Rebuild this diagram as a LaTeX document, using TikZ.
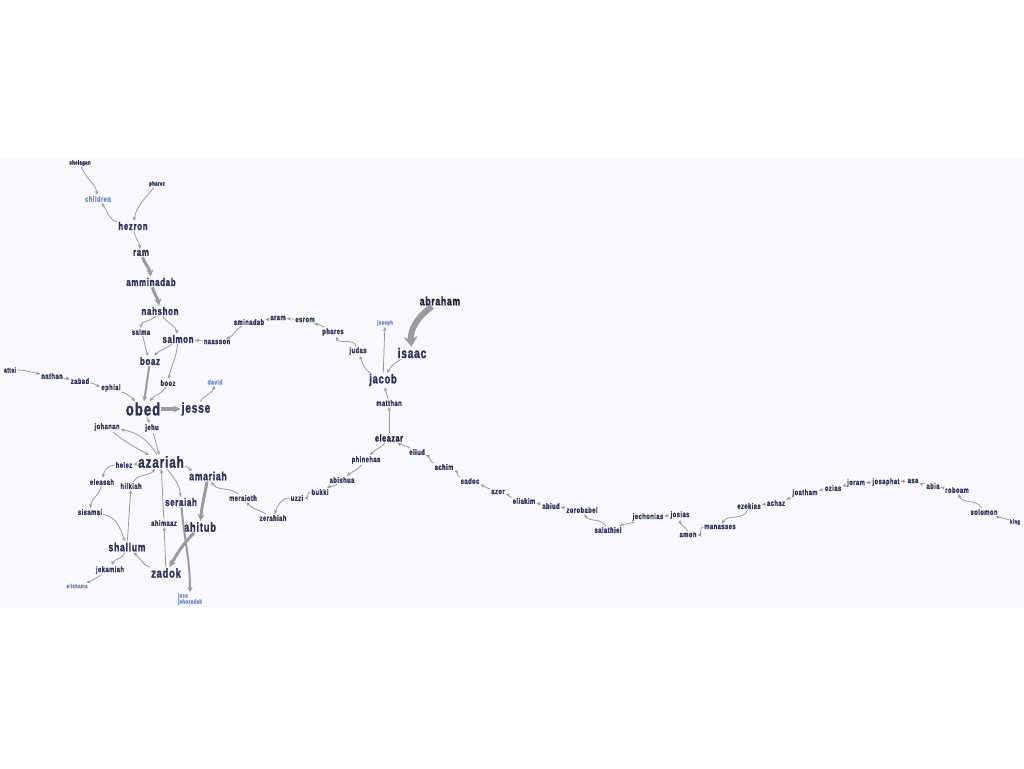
\documentclass[tikz,border=0pt]{standalone}
\usepackage{fontspec}
\usetikzlibrary{arrows.meta}
\newfontfamily\nmfont[FakeStretch=0.72,LetterSpace=6,BoldFeatures={FakeBold=1.5}]{Liberation Sans}
\definecolor{namecol}{HTML}{2C3158}
\definecolor{darkcol}{HTML}{1C1C38}
\definecolor{lblue}{HTML}{6B8ED3}
\definecolor{edgegray}{HTML}{9A9AA2}
\definecolor{bgcol}{HTML}{F9F8FC}
\newcommand{\fs}[1]{\nmfont\bfseries\fontsize{#1}{#1}\selectfont}
\tikzset{
  nm/.style={font=\fs{8}, text=namecol, inner sep=1pt},
  tny/.style={nm, font=\fs{6}},
  med/.style={nm, font=\fs{11}},
  big/.style={nm, font=\fs{14}},
  blu/.style={text=lblue},
  ln/.style={draw=edgegray, line width=0.8pt, -{Stealth[length=4pt,width=3.5pt]}},
  mid/.style={ln, line width=2pt, -{Stealth[length=5pt,width=5pt]}},
  thk/.style={ln, line width=3pt, -{Stealth[length=7pt,width=7pt]}},
  fat/.style={ln, line width=6pt, -{Stealth[length=10pt,width=14pt]}},
}
\begin{document}
\begin{tikzpicture}[x=1pt, y=-1pt]
\useasboundingbox (0,0) rectangle (1024,768);
\fill[bgcol] (0,158) rectangle (1024,607);

% ruth line
\node[tny] (shelagan) at (80,163) {shelagan};
\node[tny] (pharez) at (157,184) {pharez};
\node[nm,blu] (children) at (98,199) {children};
\node[med] (hezron) at (133,226) {hezron};
\node[med] (ram) at (141,253) {ram};
\node[med] (amminadab) at (151,282) {amminadab};
\node[med] (nahshon) at (160,311) {nahshon};
\node[nm] (salma) at (141,332) {salma};
\node[med] (salmon) at (178,339) {salmon};
\node[med] (boaz) at (150,361) {boaz};
\node[nm] (booz) at (168,383) {booz};
\node[nm, font=\fs{18}] (obed) at (143,409) {obed};
\node[big] (jesse) at (196,409) {jesse};
\node[tny,blu, font=\fs{7}] (david) at (215,382) {david};

% matthew line
\node[nm] (naasson) at (217,342) {naasson};
\node[nm] (aminadab) at (249,322) {aminadab};
\node[nm] (aram) at (278,318) {aram};
\node[nm] (esrom) at (305,320) {esrom};
\node[nm] (phares) at (333,332) {phares};
\node[nm] (judas) at (358,351) {judas};
\node[tny,blu] (joseph) at (385,323) {joseph};
\node[nm, font=\fs{12}, text=darkcol] (abraham) at (440,301) {abraham};
\node[big] (isaac) at (412,353) {isaac};
\node[nm, font=\fs{13}] (jacob) at (383,380) {jacob};
\node[nm] (matthan) at (389,403) {matthan};
\node[nm, font=\fs{10}, text=darkcol] (eleazar) at (389,438) {eleazar};
\node[nm] (eliud) at (417,452) {eliud};
\node[nm] (achim) at (444,467) {achim};
\node[nm] (sadoc) at (470,481) {sadoc};
\node[nm] (azor) at (498,492) {azor};
\node[nm] (eliakim) at (524,501) {eliakim};
\node[nm] (abiud) at (551,506) {abiud};
\node[nm] (zorobabel) at (582,510) {zorobabel};
\node[nm] (salathiel) at (608,530) {salathiel};
\node[nm] (jechonias) at (648,517) {jechonias};
\node[nm] (josias) at (680,515) {josias};
\node[nm] (amon) at (688,535) {amon};
\node[nm] (manasses) at (720,527) {manasses};
\node[nm] (ezekias) at (749,506) {ezekias};
\node[nm] (achaz) at (776,503) {achaz};
\node[nm] (joatham) at (805,493) {joatham};
\node[nm] (ozias) at (833,488) {ozias};
\node[nm] (joram) at (856,483) {joram};
\node[nm] (josaphat) at (886,482) {josaphat};
\node[nm] (asa) at (913,481) {asa};
\node[nm] (abia) at (933,486) {abia};
\node[nm] (roboam) at (957,490) {roboam};
\node[nm] (solomon) at (984,512) {solomon};
\node[tny] (king) at (1015,522) {king};

% chronicles, priests
\node[nm] (phinehas) at (366,460) {phinehas};
\node[nm] (abishua) at (342,480) {abishua};
\node[nm] (bukki) at (320,492) {bukki};
\node[nm] (uzzi) at (297,498) {uzzi};
\node[nm] (zerahiah) at (273,518) {zerahiah};
\node[nm] (meraioth) at (243,498) {meraioth};
\node[nm, font=\fs{12}] (amariah) at (208,476) {amariah};
\node[nm, font=\fs{13}] (ahitub) at (200,527) {ahitub};
\node[nm, font=\fs{13}] (zadok) at (166,573) {zadok};
\node[nm] (ahimaaz) at (164,523) {ahimaaz};
\node[nm, font=\fs{16}] (azariah) at (161,462) {azariah};
\node[med] (seraiah) at (181,502) {seraiah};
\node[tny,blu, align=left] (jozo) at (190,599) {jozo\\jehozadak};
\node[nm] (johanan) at (107,427) {johanan};
\node[nm] (jehu) at (152,428) {jehu};
\node[nm] (hilkiah) at (131,486) {hilkiah};
\node[nm] (helez) at (124,465) {helez};
\node[nm] (eleasah) at (102,482) {eleasah};
\node[nm] (sisamai) at (90,512) {sisamai};
\node[nm, font=\fs{12}] (shallum) at (127,547) {shallum};
\node[nm] (jekamiah) at (110,570) {jekamiah};
\node[tny,blu] (elishama) at (77,586) {elishama};
\node[tny, font=\fs{7}] (attai) at (10,370) {attai};
\node[nm] (nathan) at (52,376) {nathan};
\node[nm] (zabad) at (80,381) {zabad};
\node[nm] (ephlal) at (111,388) {ephlal};

% edges, top
\draw[ln] (shelagan) to[out=-70,in=100] (children);
\draw[ln] (hezron) to[out=165,in=-50] (children);
\draw[ln] (pharez) to[out=-130,in=80] (hezron);
\draw[ln] (hezron) to[out=-80,in=100] (ram);
\draw[thk] (ram) to[out=-70,in=95] (amminadab);
\draw[thk] (amminadab) to[out=-75,in=100] (nahshon);
\draw[ln] (nahshon) to[out=-130,in=90] (salma);
\draw[ln] (nahshon) to[out=-60,in=100] (salmon);
\draw[ln] (salma) to[out=-70,in=110] (boaz);
\draw[ln] (salmon) to[out=-140,in=50] (boaz);
\draw[ln] (salmon) to[out=-95,in=80] (booz);
\draw[ln] (booz) to[out=-120,in=50] (obed);
\draw[mid] (boaz) -- (obed);
\draw[thk, line width=4pt] (obed) -- (jesse);
\draw[ln] (jesse) to[out=60,in=-100] (david);
\draw[ln] (attai) to[out=0,in=170] (nathan);
\draw[ln] (nathan) to[out=-10,in=170] (zabad);
\draw[ln] (zabad) to[out=-10,in=170] (ephlal);
\draw[ln] (ephlal) to[out=-20,in=135] (obed);

% edges, matthew
\draw[ln] (naasson) -- (salmon);
\draw[ln] (aminadab) to[out=-150,in=20] (naasson);
\draw[ln] (aram) -- (aminadab);
\draw[ln] (esrom) -- (aram);
\draw[ln] (phares) to[out=150,in=-20] (esrom);
\draw[ln] (judas) to[out=110,in=-60] (phares);
\draw[ln] (jacob) to[out=150,in=-70] (judas);
\draw[fat] (abraham) to[out=-145,in=95] (isaac);
\draw[ln] (isaac) to[out=-150,in=60] (jacob);
\draw[ln] (jacob) -- (joseph);
\draw[ln] (matthan) -- (jacob);
\draw[ln] (eleazar) -- (matthan);
\draw[ln] (eliud) to[out=150,in=-30] (eleazar);
\draw[ln] (achim) to[out=160,in=-20] (eliud);
\draw[ln] (sadoc) to[out=160,in=-20] (achim);
\draw[ln] (azor) to[out=160,in=-20] (sadoc);
\draw[ln] (eliakim) to[out=165,in=-15] (azor);
\draw[ln] (abiud) to[out=170,in=-10] (eliakim);
\draw[ln] (zorobabel) -- (abiud);
\draw[ln] (salathiel) to[out=120,in=-60] (zorobabel);
\draw[ln] (jechonias) to[out=-160,in=20] (salathiel);
\draw[ln] (josias) -- (jechonias);
\draw[ln] (amon) to[out=100,in=-90] (josias);
\draw[ln] (manasses) to[out=180,in=0] (amon);
\draw[ln] (ezekias) to[out=-110,in=60] (manasses);
\draw[ln] (achaz) -- (ezekias);
\draw[ln] (joatham) to[out=-160,in=20] (achaz);
\draw[ln] (ozias) -- (joatham);
\draw[ln] (joram) -- (ozias);
\draw[ln] (josaphat) -- (joram);
\draw[ln] (asa) -- (josaphat);
\draw[ln] (abia) to[out=160,in=-20] (asa);
\draw[ln] (roboam) to[out=170,in=-10] (abia);
\draw[ln] (solomon) to[out=120,in=-70] (roboam);
\draw[ln] (king) to[out=160,in=-20] (solomon);

% edges, priests
\draw[ln] (eleazar) to[out=-130,in=50] (phinehas);
\draw[ln] (phinehas) to[out=-130,in=40] (abishua);
\draw[ln] (abishua) to[out=-140,in=30] (bukki);
\draw[ln] (bukki) to[out=180,in=0] (uzzi);
\draw[ln] (uzzi) to[out=180,in=70] (zerahiah);
\draw[ln] (zerahiah) to[out=150,in=-50] (meraioth);
\draw[ln] (meraioth) to[out=140,in=-60] (amariah);
\draw[thk] (amariah) to[out=-100,in=85] (ahitub);
\draw[thk] (ahitub) to[out=-135,in=60] (zadok);
\draw[ln] (zadok) to[out=160,in=-40] (shallum);
\draw[ln] (zadok) -- (ahimaaz);
\draw[ln] (ahimaaz) -- (azariah);
\draw[ln] (shallum) -- (hilkiah);
\draw[ln] (hilkiah) to[out=60,in=-130] (azariah);
\draw[ln] (azariah) to[out=-10,in=160] (amariah);
\draw[ln] (azariah) to[out=-50,in=95] (seraiah);
\draw[mid] (seraiah) to[out=-85,in=90] (jozo);
\draw[ln] (azariah) -- (helez);
\draw[ln] (helez) to[out=180,in=80] (eleasah);
\draw[ln] (eleasah) to[out=-100,in=85] (sisamai);
\draw[ln] (sisamai) to[out=-10,in=110] (shallum);
\draw[ln] (shallum) to[out=-110,in=70] (jekamiah);
\draw[ln] (jekamiah) to[out=-150,in=20] (elishama);
\draw[ln] (johanan) to[out=-40,in=150] (azariah);
\draw[ln] (azariah) to[out=120,in=-10] (johanan);
\draw[ln] (obed) -- (jehu);
\draw[ln] (jehu) -- (azariah);
\end{tikzpicture}
\end{document}
